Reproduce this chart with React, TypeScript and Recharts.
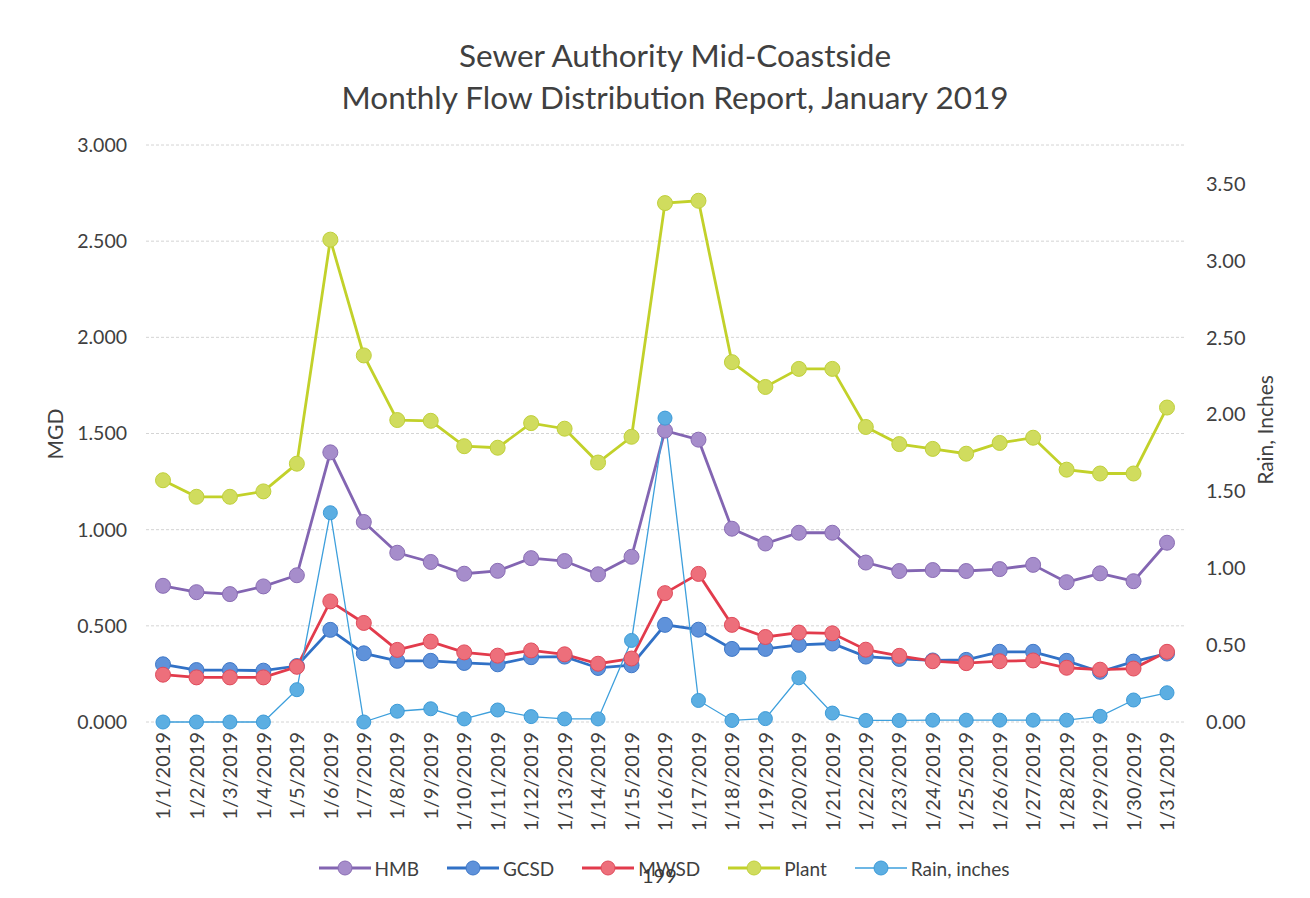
import { LineChart, Line, XAxis, YAxis, CartesianGrid, Legend } from 'recharts'

const FONT = 'Lato, "Open Sans", "DejaVu Sans", sans-serif'
const TEXT = '#404040'

const DATES = [
  '1/1/2019', '1/2/2019', '1/3/2019', '1/4/2019', '1/5/2019', '1/6/2019', '1/7/2019', '1/8/2019',
  '1/9/2019', '1/10/2019', '1/11/2019', '1/12/2019', '1/13/2019', '1/14/2019', '1/15/2019', '1/16/2019',
  '1/17/2019', '1/18/2019', '1/19/2019', '1/20/2019', '1/21/2019', '1/22/2019', '1/23/2019', '1/24/2019',
  '1/25/2019', '1/26/2019', '1/27/2019', '1/28/2019', '1/29/2019', '1/30/2019', '1/31/2019',
]

// MGD
const HMB = [0.708, 0.675, 0.665, 0.705, 0.763, 1.402, 1.04, 0.88, 0.832, 0.771, 0.786, 0.852, 0.837, 0.768, 0.859, 1.515, 1.468, 1.005, 0.928, 0.984, 0.984, 0.829, 0.785, 0.79, 0.785, 0.795, 0.817, 0.727, 0.773, 0.732, 0.932]
const GCSD = [0.3, 0.27, 0.27, 0.267, 0.291, 0.479, 0.357, 0.318, 0.318, 0.307, 0.3, 0.337, 0.34, 0.281, 0.295, 0.505, 0.48, 0.38, 0.38, 0.401, 0.408, 0.34, 0.328, 0.32, 0.323, 0.365, 0.365, 0.318, 0.261, 0.314, 0.356]
const MWSD = [0.246, 0.232, 0.232, 0.232, 0.287, 0.627, 0.515, 0.375, 0.418, 0.362, 0.345, 0.372, 0.352, 0.303, 0.33, 0.67, 0.77, 0.505, 0.442, 0.465, 0.461, 0.376, 0.344, 0.316, 0.306, 0.316, 0.32, 0.282, 0.272, 0.278, 0.365]
const PLANT = [1.257, 1.171, 1.171, 1.199, 1.343, 2.508, 1.906, 1.57, 1.566, 1.434, 1.426, 1.554, 1.525, 1.349, 1.483, 2.698, 2.71, 1.871, 1.742, 1.836, 1.836, 1.534, 1.445, 1.42, 1.395, 1.451, 1.478, 1.312, 1.292, 1.292, 1.635]
// inches, secondary axis
const RAIN = [0, 0, 0, 0, 0.21, 1.36, 0, 0.07, 0.086, 0.02, 0.078, 0.035, 0.02, 0.02, 0.53, 1.975, 0.14, 0.01, 0.022, 0.287, 0.058, 0.01, 0.01, 0.012, 0.012, 0.012, 0.012, 0.012, 0.037, 0.143, 0.19]

const MGD_TICKS = [0, 0.5, 1, 1.5, 2, 2.5, 3]
const RAIN_TICKS = [0, 0.5, 1, 1.5, 2, 2.5, 3, 3.5]

const SERIES = [
  { key: 'HMB', name: 'HMB', axis: 'mgd', line: '#8365b2', fill: '#a68dcb', edge: '#8a6db4', width: 2.8, r: 7.5 },
  { key: 'GCSD', name: 'GCSD', axis: 'mgd', line: '#3171c6', fill: '#5f92da', edge: '#3f78c8', width: 2.8, r: 7.5 },
  { key: 'MWSD', name: 'MWSD', axis: 'mgd', line: '#e23b4c', fill: '#ed6f7b', edge: '#e04c5c', width: 2.8, r: 7.5 },
  { key: 'Plant', name: 'Plant', axis: 'mgd', line: '#c2d12a', fill: '#d0dc5e', edge: '#c0d03a', width: 2.8, r: 7.5 },
  { key: 'Rain', name: 'Rain, inches', axis: 'rain', line: '#3d9fdc', fill: '#5caee2', edge: '#3d9bd8', width: 1.3, r: 7 },
]

const data = DATES.map((date, i) => ({
  date,
  HMB: HMB[i],
  GCSD: GCSD[i],
  MWSD: MWSD[i],
  Plant: PLANT[i],
  Rain: RAIN[i],
}))

// eslint-disable-next-line @typescript-eslint/no-explicit-any
function DateTick({ x, y, payload }: any) {
  return (
    <text x={x} y={y} dy="0.36em" textAnchor="end" transform={`rotate(-90, ${x}, ${y})`}
      fill={TEXT} fontSize={20} fontFamily={FONT}>
      {payload.value}
    </text>
  )
}

// right axis values, a little away from the plot like Excel
// eslint-disable-next-line @typescript-eslint/no-explicit-any
function RainTick({ x, y, payload }: any) {
  return (
    <text x={x + 22} y={y} dy="0.36em" textAnchor="start" fill={TEXT} fontSize={20} fontFamily={FONT}>
      {Number(payload.value).toFixed(2)}
    </text>
  )
}

// eslint-disable-next-line @typescript-eslint/no-explicit-any
function AxisTitle({ viewBox, dx, cy, text }: any) {
  const x = (viewBox?.x ?? 0) + dx
  return (
    <text x={x} y={cy} dy="0.36em" textAnchor="middle" transform={`rotate(-90, ${x}, ${cy})`}
      fill={TEXT} fontSize={21} fontFamily={FONT}>
      {text}
    </text>
  )
}

function LegendRow() {
  return (
    <div style={{ display: 'flex', justifyContent: 'center', alignItems: 'center', height: 40, paddingLeft: 46, fontFamily: FONT, fontSize: 19, color: TEXT }}>
      {SERIES.map(s => (
        <div key={s.key} style={{ display: 'flex', alignItems: 'center', marginRight: 28 }}>
          <svg width={52} height={18}>
            <line x1={0} y1={9} x2={52} y2={9} stroke={s.line} strokeWidth={s.width} />
            <circle cx={26} cy={9} r={7} fill={s.fill} stroke={s.edge} strokeWidth={1} />
          </svg>
          <span style={{ marginLeft: 4 }}>{s.name}</span>
        </div>
      ))}
    </div>
  )
}

export default function App() {
  return (
    <div style={{ position: 'relative', width: 1294, height: 882, background: '#fff' }}>
      <div style={{ position: 'absolute', left: 20, width: 1294, top: 26, textAlign: 'center', fontFamily: FONT, fontSize: 31.5, lineHeight: '42px', color: TEXT }}>
        <div>Sewer Authority Mid-Coastside</div>
        <div>Monthly Flow Distribution Report, January 2019</div>
      </div>
      <LineChart width={1294} height={882} data={data} margin={{ top: 137, right: 0, bottom: 2, left: 0 }}>
        <CartesianGrid yAxisId="mgd" vertical={false} stroke="#d4d4d4" strokeDasharray="3 2" />
        <XAxis dataKey="date" interval={0} height={126} tick={<DateTick />} tickLine={false} tickSize={0} tickMargin={10}
          axisLine={false} padding={{ left: 17, right: 17 }} />
        <YAxis yAxisId="mgd" orientation="left" width={138} domain={[0, 3]} ticks={MGD_TICKS} interval={0}
          tickFormatter={v => Number(v).toFixed(3)} tick={{ fill: TEXT, fontSize: 19.5, fontFamily: FONT }}
          tickLine={false} tickSize={0} tickMargin={19} axisLine={false}
          label={<AxisTitle dx={47} cy={426} text="MGD" />} />
        <YAxis yAxisId="rain" orientation="right" width={118} domain={[0, 3.75]} ticks={RAIN_TICKS} interval={0}
          tick={<RainTick />} tickLine={false} tickSize={0} tickMargin={0} axisLine={false}
          label={<AxisTitle dx={81} cy={422} text="Rain, Inches" />} />
        <Legend verticalAlign="bottom" content={() => <LegendRow />} />
        {SERIES.map(s => (
          <Line key={s.key} yAxisId={s.axis} type="linear" dataKey={s.key} name={s.name} stroke={s.line} strokeWidth={s.width}
            dot={{ r: s.r, fill: s.fill, stroke: s.edge, strokeWidth: 1 }} activeDot={false} isAnimationActive={false} />
        ))}
      </LineChart>
      <div style={{ position: 'absolute', left: 634, top: 855, width: 34, textAlign: 'center', fontFamily: FONT, fontSize: 20, color: '#3a3a3a' }}>199</div>
    </div>
  )
}
